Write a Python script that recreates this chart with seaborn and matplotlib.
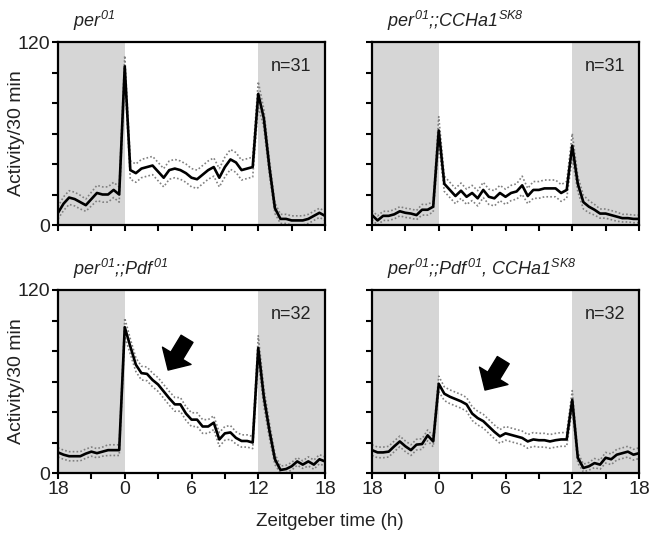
import numpy as np
import pandas as pd
import seaborn as sns
import matplotlib.pyplot as plt

##DATA: mean activity per 30 min bin, ZT -6 .. 18
zt = np.arange(-6, 18.5, 0.5)

mean_per = [8, 14, 18, 17, 15, 13, 17, 21, 20, 20, 23, 20,
            104,
            36, 34, 37, 38, 39, 35, 31, 36, 37, 36, 34, 31, 30, 33, 36, 38, 31, 38, 43, 41, 36, 37, 38,
            86,
            70, 38, 11, 4, 4, 3, 3, 3, 4, 6, 8, 6]
sem_per = [4, 4.5, 4.5, 4.5, 4.5, 4, 4.5, 5, 5, 5, 5, 5,
           7,
           6, 6, 6, 6, 6, 6, 6, 6, 6, 6, 6, 6, 6, 6, 6, 6, 6, 6.5, 6.5, 6.5, 6.5, 6.5, 6.5,
           8,
           6, 5, 3.5, 3, 3, 3, 3, 3, 3, 3, 3, 3]

mean_ccha = [6.5, 3, 6, 6, 7, 9, 8, 7.5, 6.5, 10, 10, 12,
             62,
             27, 23, 19, 22.5, 18.5, 21, 17.5, 23, 18.5, 17.5, 21, 18.5, 21, 22, 26, 19, 23, 23, 24, 24, 24, 21, 23,
             52,
             27, 15, 12, 10, 7.5, 7.5, 6.5, 5.5, 4.5, 4.5, 4, 4]
sem_ccha = [3, 3, 3, 3, 3, 3, 3, 3, 3, 3.5, 3.5, 3.5,
            9,
            5, 5, 5, 5, 5, 5, 5, 5, 5, 5, 5, 5, 5, 5, 6, 5, 5.5, 5.5, 5.5, 5.5, 5.5, 5.5, 5.5,
            8,
            5, 4.5, 4, 3.5, 3, 3, 3, 3, 2.5, 2.5, 2.5, 2.5]

mean_pdf = [13.5, 12, 11, 11, 11, 12.7, 14, 13, 14, 15, 15, 15,
            95.6,
            83, 71, 65.5, 65, 61, 58, 53.5, 49, 45, 45, 39, 35, 35, 30.5, 30.5, 33, 22, 26, 26.6, 23, 21, 21, 20,
            82,
            50, 28, 9, 2, 2.6, 4.4, 7.6, 5.5, 7.6, 5.5, 9, 7.6]
sem_pdf = [3, 3, 3, 3, 3, 3, 3, 3, 3, 3.5, 3.5, 3.5,
           6,
           5, 4.5, 4.5, 4.5, 4.5, 4.5, 4.5, 4.5, 4.5, 4.5, 4.5, 4.5, 4.5, 4.5, 4.5, 4.5, 4.5, 4.5, 4.5, 4, 4, 4, 4,
           8,
           6, 5, 3.5, 2.5, 2.5, 2.5, 2.5, 2.5, 3, 3, 3, 3]

mean_pdf_ccha = [15, 13.5, 13.5, 14, 17.5, 20.7, 17.5, 15, 18.6, 19, 24.7, 20.7,
                 58.5,
                 52, 50, 48.5, 47, 45, 39, 36, 34, 30.5, 27, 24, 26, 25, 24, 23, 20.7, 22, 21.5, 21.5, 20.7, 21.5, 22, 22,
                 48,
                 10, 3.3, 4.4, 6.5, 5.5, 10, 9, 12, 13, 14, 12, 13]
sem_pdf_ccha = [3.5, 3.5, 3.5, 3.5, 3.5, 3.5, 3.5, 3.5, 3.5, 3.5, 3.5, 3.5,
                5,
                4.5, 4.5, 4.5, 4.5, 4.5, 4.5, 4.5, 4.5, 4.5, 4.5, 4.5, 4.5, 4.5, 4.5, 4.5, 4.5, 4.5, 4.5, 4.5, 4.5, 4.5, 4.5, 4.5,
                6,
                3.5, 2.5, 2.5, 3, 3, 3.5, 3.5, 3.5, 3.5, 3.5, 3.5, 3.5]

titles = [r'$\mathit{per}^{01}$',
          r'$\mathit{per}^{01}$;;$\mathit{CCHa1}^{SK8}$',
          r'$\mathit{per}^{01}$;;$\mathit{Pdf}^{01}$',
          r'$\mathit{per}^{01}$;;$\mathit{Pdf}^{01}$, $\mathit{CCHa1}^{SK8}$']
n_labels = ['n=31', 'n=31', 'n=32', 'n=32']
means = [mean_per, mean_ccha, mean_pdf, mean_pdf_ccha]
sems = [sem_per, sem_ccha, sem_pdf, sem_pdf_ccha]
# arrows (tail, head) in data coords, only bottom panels
arrows = [None, None, ((5.6, 88), (3.9, 67.5)), ((5.8, 74), (4.16, 54.4))]

##STYLE
sns.set_style('ticks')
plt.rcParams['font.family'] = ['Liberation Sans', 'DejaVu Sans']
plt.rcParams['mathtext.fontset'] = 'custom'
plt.rcParams['mathtext.it'] = 'Liberation Sans:italic'
plt.rcParams['mathtext.rm'] = 'Liberation Sans:italic'  # only the titles use mathtext, all italic
txt_col = '#222222'

fig = plt.figure(figsize=(6.53, 5.42), dpi=100)
W, H = 653, 542
boxes = [(58, 42), (372, 42), (58, 290), (372, 290)]
pw, ph = 267, 183

for k in range(4):
    x0, y0 = boxes[k]
    ax = fig.add_axes([x0 / W, 1 - (y0 + ph) / H, pw / W, ph / H])

    df = pd.DataFrame({'ZT': zt, 'mean': means[k]})
    df['upper'] = df['mean'] + np.array(sems[k])
    df['lower'] = (df['mean'] - np.array(sems[k])).clip(lower=0)

    ax.axvspan(-6, 0, color='#d6d6d6', lw=0, zorder=0)
    ax.axvspan(12, 18, color='#d6d6d6', lw=0, zorder=0)

    sns.lineplot(data=df, x='ZT', y='upper', ax=ax, color='#808080', lw=1.2, linestyle=(0, (1, 1.3)))
    sns.lineplot(data=df, x='ZT', y='lower', ax=ax, color='#808080', lw=1.2, linestyle=(0, (1, 1.3)))
    sns.lineplot(data=df, x='ZT', y='mean', ax=ax, color='black', lw=1.9)

    ax.set_xlim(-6, 18)
    ax.set_ylim(0, 120)
    ax.set_xticks([-6, 0, 6, 12, 18])
    ax.set_xticks([-3, 3, 9, 15], minor=True)
    ax.set_yticks([0, 120])
    ax.set_yticks([20, 40, 60, 80, 100], minor=True)
    ax.tick_params(which='both', direction='out', length=4, width=1.5, color='black',
                   labelsize=14, labelcolor=txt_col, pad=2)

    if k >= 2:
        ax.set_xticklabels(['18', '0', '6', '12', '18'])
    else:
        ax.set_xticklabels([])
    if k % 2 == 0:
        ax.set_yticklabels(['0', '120'])
        ax.set_ylabel('Activity/30 min', fontsize=14, color=txt_col, labelpad=-6)
    else:
        ax.set_yticklabels([])
        ax.set_ylabel('')
    ax.set_xlabel('')

    for side in ['left', 'bottom', 'top', 'right']:
        ax.spines[side].set_visible(True)
        ax.spines[side].set_linewidth(1.6)
        ax.spines[side].set_color('black')

    ax.text(0.055, 1.05, titles[k], transform=ax.transAxes, fontsize=13,
            color=txt_col, ha='left', va='bottom', style='italic')
    ax.text(0.95, 0.91, n_labels[k], transform=ax.transAxes, fontsize=13,
            color=txt_col, ha='right', va='top')

    if arrows[k] is not None:
        tail, head = arrows[k]
        ax.annotate('', xy=head, xytext=tail,
                    arrowprops=dict(arrowstyle='simple,head_length=1.2,head_width=2.4,tail_width=1.0',
                                    mutation_scale=10, fc='black', ec='black',
                                    shrinkA=0, shrinkB=0))

fig.text(330 / W, 1 - 522 / H, 'Zeitgeber time (h)', ha='center', va='center',
         fontsize=13.5, color=txt_col)

plt.savefig('out.png', dpi=100)
